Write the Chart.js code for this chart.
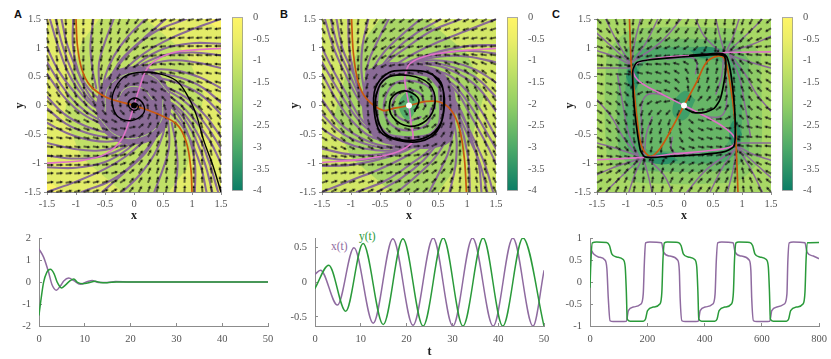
<!DOCTYPE html>
<html>
<head>
<meta charset="utf-8">
<style>
  html, body { margin: 0; background: #fff; }
  body { position: relative; width: 831px; height: 359px; overflow: hidden; }
  canvas { position: absolute; }
  .note { position: absolute; white-space: nowrap; line-height: 1; }
  .panel { font: bold 11px "Liberation Sans", sans-serif; color: #111; }
  .series { font: 11.5px "Liberation Serif", serif; }
</style>
<script src="https://cdn.jsdelivr.net/npm/chart.js@4"></script>
</head>
<body>
<span class="note panel" style="left:14px;top:8px">A</span>
<span class="note panel" style="left:280px;top:8px">B</span>
<span class="note panel" style="left:552px;top:8px">C</span>
<span class="note series" style="left:331px;top:240px;color:#8f6ba0">x(t)</span>
<span class="note series" style="left:359px;top:230px;color:#2a9a3a">y(t)</span>
<script>
// all values below are estimates
const phaseTicks = [-1.5, -1, -0.5, 0, 0.5, 1, 1.5];
const barTicks = [-4, -3.5, -3, -2.5, -2, -1.5, -1, -0.5, 0];
const cmapValues = [0, -0.5, -1, -2, -3, -4];
const cmapColors = ['#fff566', '#ecee69', '#cfe667', '#93cf66', '#4eaa69', '#0b7d66'];
const gridPos = [-1.5, -1.34, -1.18, -1.03, -0.87, -0.71, -0.55, -0.39, -0.24, -0.08, 0.08, 0.24, 0.39, 0.55, 0.71, 0.87, 1.03, 1.18, 1.34, 1.5];

// arrow directions in degrees clockwise from east, rows run from y=1.5 down to y=-1.5
const anglesA = [
  [79,82,86,89,93,97,101,105,110,118,130,142,152,158,162,164,166,167,168,169],
  [78,82,86,89,93,97,101,106,112,121,133,147,157,164,167,169,170,171,172,172],
  [77,81,85,89,93,98,102,108,114,124,138,153,163,169,172,174,175,175,176,176],
  [76,80,85,89,93,98,103,109,116,127,142,158,169,174,177,178,179,179,180,180],
  [74,79,84,88,93,98,104,110,118,130,148,165,175,180,182,183,183,183,183,183],
  [72,77,82,87,92,98,104,111,119,133,153,172,182,187,188,188,188,188,187,187],
  [68,73,79,84,90,97,103,111,120,137,160,180,189,193,194,194,193,192,191,191],
  [62,67,73,79,85,92,99,108,119,139,167,189,198,201,201,200,199,198,196,195],
  [52,57,63,68,75,82,90,99,111,136,176,201,209,210,209,208,205,204,202,200],
  [40,43,48,52,58,63,70,77,86,113,203,226,229,227,223,220,217,214,211,208],
  [28,31,34,37,40,43,47,49,46,23,293,266,257,250,243,238,232,228,223,220],
  [20,22,24,25,28,29,30,29,21,356,316,291,279,270,262,255,248,243,237,232],
  [15,16,18,19,20,21,21,18,9,347,319,299,288,279,272,265,259,253,247,242],
  [11,11,12,13,14,14,13,9,0,340,317,300,291,283,277,270,264,259,253,248],
  [7,7,8,8,8,8,7,2,352,333,313,299,291,284,278,272,267,262,257,252],
  [3,3,3,3,3,2,0,355,345,328,310,298,290,284,278,273,268,264,259,254],
  [0,0,359,359,358,357,354,349,338,322,307,296,289,283,278,273,269,265,260,256],
  [356,356,355,355,354,352,349,343,333,318,304,294,288,282,278,273,269,265,261,257],
  [352,352,351,350,349,347,344,337,327,313,301,292,286,281,277,273,269,266,262,258],
  [349,348,347,346,344,342,338,332,322,310,298,290,285,281,277,273,269,266,262,259]
];
const anglesB = [
  [63,69,77,87,99,112,123,133,140,145,149,152,153,154,154,154,154,153,152,153],
  [63,69,76,87,99,113,127,138,146,151,155,158,159,160,161,161,161,160,160,161],
  [64,69,76,86,99,115,131,143,151,158,162,164,166,167,168,168,168,168,168,169],
  [64,69,75,86,99,117,135,148,157,164,168,170,172,173,174,174,175,175,176,177],
  [64,69,75,85,97,115,134,150,161,169,175,180,183,186,188,190,191,191,190,189],
  [64,69,75,85,96,113,133,152,165,175,183,189,194,199,203,206,207,207,204,202],
  [64,68,75,84,93,108,126,145,162,177,191,202,211,218,222,224,223,220,216,212],
  [63,68,75,82,91,104,120,139,159,180,199,216,229,238,242,242,239,234,228,223],
  [61,66,73,80,88,98,110,124,140,165,219,241,250,254,254,251,247,241,235,229],
  [59,65,71,78,85,93,101,109,120,149,239,266,270,269,265,260,254,247,241,235],
  [55,61,67,74,80,85,89,90,86,59,329,300,289,281,273,265,258,251,245,239],
  [49,55,61,67,71,74,74,70,61,39,345,320,304,290,278,268,260,253,246,241],
  [43,48,54,59,62,62,58,49,36,19,0,339,319,300,284,271,262,255,248,243],
  [32,36,40,43,44,42,38,31,22,11,357,342,325,306,288,273,264,255,248,244],
  [22,24,27,27,26,23,19,14,9,3,355,345,332,313,293,276,265,255,249,244],
  [9,10,11,11,10,8,6,3,0,355,349,341,330,314,295,277,265,255,249,244],
  [357,356,355,355,354,354,353,352,350,348,344,337,328,315,297,279,266,255,249,244],
  [349,348,348,348,348,348,347,346,344,342,338,331,323,311,295,279,266,256,249,244],
  [341,340,340,341,341,341,340,339,338,335,331,326,318,307,293,279,267,256,249,243],
  [333,332,333,334,334,334,334,333,332,329,325,320,313,303,292,279,267,257,249,243]
];
const anglesC = [
  [47,58,70,84,98,111,120,125,127,125,120,112,104,98,97,102,110,119,128,137],
  [38,49,63,80,100,116,127,133,135,132,125,116,106,98,98,105,117,129,139,148],
  [29,39,53,74,103,124,137,142,144,141,134,122,108,98,100,112,129,143,153,160],
  [20,27,39,64,107,137,150,155,156,155,148,135,115,96,105,132,154,164,170,173],
  [12,15,22,42,120,158,168,172,174,175,177,181,204,297,252,210,197,193,190,188],
  [7,8,10,15,162,182,185,188,191,197,211,241,273,284,272,248,227,214,206,201],
  [8,8,8,6,207,194,195,198,203,214,236,264,281,285,275,258,240,227,217,210],
  [14,15,18,25,115,183,191,197,205,222,250,276,287,288,278,262,245,232,223,216],
  [22,26,32,45,91,151,174,185,198,221,261,288,295,293,281,264,246,234,225,217],
  [30,36,44,58,87,121,146,160,171,199,289,311,312,304,287,265,245,231,222,215],
  [35,42,51,65,85,107,124,132,131,109,19,351,340,326,301,267,238,224,216,210],
  [37,45,54,66,84,101,113,115,108,81,41,18,5,354,331,271,225,212,206,202],
  [36,43,52,65,82,98,108,107,96,70,42,25,17,11,3,295,205,198,195,194],
  [30,37,47,60,78,95,105,101,84,56,34,23,18,15,14,27,186,188,188,188],
  [21,26,34,47,68,92,104,93,61,31,17,11,8,5,2,342,195,190,188,187],
  [8,10,13,17,30,72,117,24,1,357,355,354,352,348,338,300,222,202,195,192],
  [353,350,344,334,312,285,276,295,315,328,335,336,335,330,317,287,244,219,207,200],
  [340,333,323,309,292,280,278,288,302,314,321,324,322,317,304,283,254,233,219,209],
  [328,319,309,297,285,278,278,286,296,305,312,315,313,307,296,280,260,243,229,218],
  [317,308,299,290,282,277,278,284,292,300,305,307,305,300,291,278,264,250,238,227]
];

// curves are flat x,y lists
const streamsA = [
  [-1.45,1.5,-1.3,1,-1.1,.5,-.8,.08,-.45,-.14,-.15,-.22],
  [-1.25,1.5,-1.15,1.05,-.95,.55,-.7,.2,-.4,0,-.15,-.1],
  [-1.35,1.5,-1.22,1,-1,.45,-.72,.05,-.5,-.08],
  [-1.5,1,-1.3,.6,-1,.2,-.7,-.1,-.4,-.25,-.1,-.28],
  [-1.5,.75,-1.27,.38,-.98,.02,-.65,-.22,-.35,-.32],
  [-1.5,.55,-1.25,.2,-.95,-.1,-.6,-.3,-.3,-.38,0,-.33],
  [-1.5,.15,-1.2,-.15,-.85,-.35,-.45,-.47,-.1,-.45,.15,-.3],
  [-1.5,-.05,-1.17,-.32,-.8,-.48,-.4,-.55,-.05,-.48],
  [-1.5,-.3,-1.15,-.48,-.75,-.6,-.35,-.62,0,-.5,.25,-.3],
  [-1.5,-.65,-1.05,-.75,-.6,-.78,-.2,-.68,.1,-.5,.33,-.2],
  [-1.5,-.87,-1.02,-.92,-.55,-.88,-.15,-.72,.15,-.48],
  [-1.5,-1.07,-1,-1.08,-.5,-.98,-.1,-.75,.2,-.45,.4,-.1],
  [-1.5,-1.5,-1,-1.32,-.5,-1.1,-.1,-.85,.25,-.52,.45,-.15],
  [-.9,-1.5,-.4,-1.3,0,-1,.3,-.65,.5,-.3],
  [-.55,-1.5,-.15,-1.15,.2,-.82,.42,-.48],
  [-.2,-1.5,.1,-1.2,.35,-.85,.5,-.5,.55,-.15],
  [.35,-1.5,.5,-1.1,.6,-.75,.6,-.4,.55,-.05],
  [.7,-1.5,.75,-1.05,.72,-.65,.65,-.3],
  [1.05,-1.5,1.05,-1,.95,-.55,.75,-.15,.5,.1],
  [1.45,-1.5,1.3,-1,1.1,-.5,.8,-.08,.45,.14,.15,.22],
  [1.25,-1.5,1.15,-1.05,.95,-.55,.7,-.2,.4,0,.15,.1],
  [1.35,-1.5,1.22,-1,1,-.45,.72,-.05,.5,.08],
  [1.5,-1,1.3,-.6,1,-.2,.7,.1,.4,.25,.1,.28],
  [1.5,-.75,1.27,-.38,.98,-.02,.65,.22,.35,.32],
  [1.5,-.55,1.25,-.2,.95,.1,.6,.3,.3,.38,0,.33],
  [1.5,-.15,1.2,.15,.85,.35,.45,.47,.1,.45,-.15,.3],
  [1.5,.05,1.17,.32,.8,.48,.4,.55,.05,.48],
  [1.5,.3,1.15,.48,.75,.6,.35,.62,0,.5,-.25,.3],
  [1.5,.65,1.05,.75,.6,.78,.2,.68,-.1,.5,-.33,.2],
  [1.5,.87,1.02,.92,.55,.88,.15,.72,-.15,.48],
  [1.5,1.07,1,1.08,.5,.98,.1,.75,-.2,.45,-.4,.1],
  [1.5,1.5,1,1.32,.5,1.1,.1,.85,-.25,.52,-.45,.15],
  [.9,1.5,.4,1.3,0,1,-.3,.65,-.5,.3],
  [.55,1.5,.15,1.15,-.2,.82,-.42,.48],
  [.2,1.5,-.1,1.2,-.35,.85,-.5,.5,-.55,.15],
  [-.35,1.5,-.5,1.1,-.6,.75,-.6,.4,-.55,.05],
  [-.7,1.5,-.75,1.05,-.72,.65,-.65,.3],
  [-1.05,1.5,-1.05,1,-.95,.55,-.75,.15,-.5,-.1]
];
const streamsB = [
  [-1.45,1.5,-1.3,1,-1.1,.55,-.9,.15,-.7,-.15,-.55,-.35],
  [-1.25,1.5,-1.15,1,-.98,.6,-.82,.2,-.7,-.1],
  [-1.35,1.5,-1.22,1,-1.03,.55,-.85,.15,-.72,-.15],
  [-1.5,1,-1.3,.6,-1.05,.15,-.85,-.2,-.62,-.45],
  [-1.5,.75,-1.27,.35,-1.02,-.05,-.78,-.35,-.5,-.55],
  [-1.5,.55,-1.25,.1,-1,-.25,-.7,-.52,-.4,-.62],
  [-1.5,.1,-1.2,-.3,-.85,-.55,-.45,-.7,-.1,-.7],
  [-1.5,-.15,-1.17,-.47,-.8,-.65,-.38,-.74,0,-.7],
  [-1.5,-.4,-1.15,-.62,-.75,-.75,-.3,-.78,.1,-.68],
  [-1.5,-.75,-1,-.85,-.55,-.85,-.1,-.75,.25,-.6],
  [-1.5,-.9,-1,-.95,-.55,-.9,-.1,-.77,.3,-.58],
  [-1.5,-1.05,-1,-1.03,-.5,-.93,-.05,-.78,.35,-.55],
  [-1.5,-1.5,-1,-1.3,-.5,-1.1,-.05,-.88,.35,-.62,.55,-.4],
  [-.9,-1.5,-.4,-1.3,.05,-1,.4,-.72,.62,-.35],
  [-.55,-1.5,-.12,-1.25,.25,-.95,.52,-.62],
  [-.2,-1.5,.15,-1.2,.45,-.9,.65,-.55,.68,-.2],
  [.35,-1.5,.55,-1.1,.7,-.75,.75,-.35,.7,0],
  [.7,-1.5,.8,-1.05,.82,-.6,.76,-.2],
  [1.05,-1.5,1.03,-1,.95,-.55,.82,-.1,.7,.15],
  [1.25,-1.5,1.2,-1,1.05,-.5,.9,-.1,.72,.2],
  [1.35,-1.5,1.22,-1,1.03,-.55,.85,-.15,.72,.15],
  [1.45,-1.5,1.3,-1,1.1,-.55,.9,-.15,.7,.15,.55,.35],
  [1.5,-1,1.3,-.6,1.05,-.15,.85,.2,.62,.45],
  [1.5,-.75,1.27,-.35,1.02,.05,.78,.35,.5,.55],
  [1.5,-.55,1.25,-.1,1,.25,.7,.52,.4,.62],
  [1.5,-.1,1.2,.3,.85,.55,.45,.7,.1,.7],
  [1.5,.15,1.17,.47,.8,.65,.38,.74,0,.7],
  [1.5,.4,1.15,.62,.75,.75,.3,.78,-.1,.68],
  [1.5,.75,1,.85,.55,.85,.1,.75,-.25,.6],
  [1.5,.9,1,.95,.55,.9,.1,.77,-.3,.58],
  [1.5,1.05,1,1.03,.5,.93,.05,.78,-.35,.55],
  [1.5,1.5,1,1.3,.5,1.1,.05,.88,-.35,.62,-.55,.4],
  [.9,1.5,.4,1.3,-.05,1,-.4,.72,-.62,.35],
  [.55,1.5,.12,1.25,-.25,.95,-.52,.62],
  [.2,1.5,-.15,1.2,-.45,.9,-.65,.55,-.68,.2],
  [-.35,1.5,-.55,1.1,-.7,.75,-.75,.35,-.7,0],
  [-.7,1.5,-.8,1.05,-.82,.6,-.76,.2],
  [-1.05,1.5,-1.03,1,-.95,.55,-.82,.1,-.7,-.15],
  [.45,-.05,.38,.28,.1,.42,-.25,.38,-.42,.1,-.4,-.2,-.2,-.4,.1,-.42,.33,-.3,.38,-.05],
  [.28,0,.2,.2,-.05,.27,-.25,.12,-.25,-.12,-.03,-.27,.2,-.2]
];
const streamsC = [
  [-1.35,1.5,-1.15,1.1,-.92,.72],
  [-1.5,1.25,-1.2,.98,-.92,.72],
  [-.75,1.5,-.85,1.1,-.9,.75],
  [-.45,1.5,-.65,1.1,-.88,.75],
  [-1.5,.65,-1.2,.65,-.92,.65],
  [-1.5,.95,-1.2,.85,-.95,.72],
  [-.05,1.5,-.4,1.1,-.85,.78],
  [.55,1.5,.62,1.2,.7,.92],
  [.2,1.5,.35,1.2,.6,.95],
  [.95,1.5,.85,1.2,.72,.92],
  [1.35,1.5,1.05,1.2,.75,.93],
  [1.5,1.2,1.15,1.05,.75,.92],
  [1.5,.65,1.15,.75,.8,.87],
  [1.5,-.1,1.25,.2,1.05,.55,.8,.88],
  [1.15,-.55,1.05,0,.95,.5,.78,.88],
  [1.35,-1.5,1.15,-1.1,.92,-.72],
  [1.5,-1.25,1.2,-.98,.92,-.72],
  [.75,-1.5,.85,-1.1,.9,-.75],
  [.45,-1.5,.65,-1.1,.88,-.75],
  [1.5,-.65,1.2,-.65,.92,-.65],
  [1.5,-.95,1.2,-.85,.95,-.72],
  [.05,-1.5,.4,-1.1,.85,-.78],
  [-.55,-1.5,-.62,-1.2,-.7,-.92],
  [-.2,-1.5,-.35,-1.2,-.6,-.95],
  [-.95,-1.5,-.85,-1.2,-.72,-.92],
  [-1.35,-1.5,-1.05,-1.2,-.75,-.93],
  [-1.5,-1.2,-1.15,-1.05,-.75,-.92],
  [-1.5,-.65,-1.15,-.75,-.8,-.87],
  [-1.5,.1,-1.25,-.2,-1.05,-.55,-.8,-.88],
  [-1.15,.55,-1.05,0,-.95,-.5,-.78,-.88],
  [-.3,.17,-.6,.2,-.72,.05,-.73,-.4,-.7,-.85],
  [-.55,-.2,-.65,-.5,-.68,-.85],
  [-.2,-.55,-.22,-.75,-.1,-.84,.3,-.8],
  [.3,-.17,.6,-.2,.72,-.05,.73,.4,.7,.85],
  [.55,.2,.65,.5,.68,.85],
  [.2,.55,.22,.75,.1,.84,-.3,.8]
];
const coreLinesA = [
  [.6,.22,.3,.52,-.1,.55,-.45,.3,-.5,-.1],
  [-.6,-.22,-.3,-.52,.1,-.55,.45,-.3,.5,.1],
  [.32,.1,.14,.3,-.14,.3,-.3,.08]
];

const orangeA = [-1,1.5,-.975,1.03,-.9,.63,-.755,.345,-.47,.14,0,0,.39,-.14,.73,-.32,.9,-.63,.98,-1.09,1,-1.5];
const pinkA = [-1.5,-1,-.87,-.95,-.47,-.83,-.21,-.58,-.07,-.23,0,0,.09,.29,.22,.63,.45,.83,.79,.94,1.5,.99];
const blackA = [1.5,-1.5,1.36,-1.04,1.2,-.6,1.08,-.18,.95,.12,.73,.43,.39,.56,.1,.575,-.18,.49,-.355,.23,-.37,0,-.27,-.2,-.04,-.26,.16,-.14,.17,0,.07,.115,-.04,.115,-.1,.03,-.04,-.07,.05,-.07,.07,0,0,.04,0,0];
const orangeB = [-.99,1.5,-.96,.92,-.875,.4,-.73,.115,-.45,-.085,-.27,-.05,0,0,.3,.07,.53,.06,.73,-.085,.87,-.4,.955,-.92,.99,-1.5];
const pinkB = [-1.5,-.99,-.79,-.93,-.27,-.83,.04,-.66,.07,-.52,.04,-.34,0,0,-.06,.34,-.07,.49,.01,.72,.3,.86,.81,.94,1.5,.99];
const blackB = [.1,-.1,.17,.1,0,.24,-.2,.22,-.33,.06,-.28,-.2,0,-.36,.3,-.26,.45,.06,.35,.37,0,.52,-.4,.47,-.56,.2,-.56,-.15,-.42,-.48,-.1,-.6,.3,-.55,.55,-.3,.6,.05,.55,.4,.3,.58,0,.61,-.35,.57,-.58,.3,-.6,-.1,-.5,-.45,-.2,-.6,.2,-.62,.48,-.45,.6,-.1,.58,.3,.4,.55];
const orangeC = [-.94,1.5,-.91,.72,-.87,.35,-.81,-.22,-.73,-.71,-.58,-.88,-.41,-.74,-.18,-.34,0,0,.22,.41,.39,.75,.59,.86,.7,.81,.79,.41,.875,-.22,.9,-.71,.93,-1.5];
const pinkC = [-1.5,-.94,-.7,-.9,-.18,-.84,.45,-.78,.82,-.71,.88,-.57,.68,-.37,.22,-.11,0,0,-.35,.18,-.76,.41,-.88,.61,-.78,.75,-.3,.84,.27,.875,.73,.92,1.5,.93];
const blackC = [.03,-.06,.15,-.12,.35,-.12,.52,-.05,.62,.1,.68,.35,.72,.65,.7,.85,.6,.88,.2,.86,-.3,.82,-.68,.78,-.82,.74,-.88,.62,-.88,.3,-.85,-.1,-.8,-.5,-.75,-.78,-.68,-.89,-.55,-.9,-.2,-.88,.3,-.85,.7,-.8,.85,-.72,.88,-.6,.88,-.2,.85,.2,.8,.6,.74,.84,.66,.9,.5,.9,.1,.87];

// filled colour regions behind the field
const regionsA = [
  {color: '#fbf366', pts: [-1.5,-1.5,1.5,-1.5,1.5,1.5,-1.5,1.5,-1.5,-1.5]},
  {color: '#e3ec69', pts: [-1.38,1.5,1.2,1.5,1.5,1.3,1.5,-1.38,1.4,-1.5,-1.2,-1.5,-1.5,-1.3,-1.5,1.38,-1.38,1.5]},
  {color: '#c0e067', pts: [-.6,1.5,.2,1.5,.9,.9,1.2,.2,1.1,-.5,.9,-1.1,.6,-1.5,-.2,-1.5,-.9,-.9,-1.2,-.2,-1.1,.5,-.9,1.1,-.6,1.5]},
  {color: '#8a6b96', smooth: 0.4, pts: [.62,.25,.42,.55,.05,.68,-.38,.56,-.62,.18,-.62,-.25,-.42,-.55,-.05,-.68,.38,-.56,.62,-.18,.62,.25]}
];
const regionsB = [
  {color: '#d3e767', pts: [-1.5,-1.5,1.5,-1.5,1.5,1.5,-1.5,1.5,-1.5,-1.5]},
  {color: '#a9d666', pts: [-.5,1.5,.3,1.5,1,.9,1.3,.2,1.1,-.5,.8,-1.1,.5,-1.5,-.3,-1.5,-1,-.9,-1.3,-.2,-1.1,.5,-.8,1.1,-.5,1.5]},
  {color: '#8a6b96', smooth: 0.3, pts: [-.72,.62,-.35,.75,.1,.72,.55,.6,.78,.25,.8,-.2,.72,-.62,.35,-.75,-.1,-.72,-.55,-.6,-.78,-.25,-.8,.2,-.72,.62]},
  {color: '#8ecb66', smooth: 0.3, pts: [.5,.3,.3,.5,-.3,.5,-.5,.3,-.5,-.3,-.3,-.5,.3,-.5,.5,-.3,.5,.3]},
  {color: '#55ad6a', smooth: 0.4, pts: [.18,.02,.02,.25,-.18,.02,-.02,-.25,.18,.02]}
];
const regionsC = [
  {color: '#a8d865', pts: [-1.5,-1.5,1.5,-1.5,1.5,1.5,-1.5,1.5,-1.5,-1.5]},
  {color: '#8dcb66', smooth: 0.2, pts: [1.32,.9,.9,1.32,-.9,1.32,-1.32,.9,-1.32,-.9,-.9,-1.32,.9,-1.32,1.32,-.9,1.32,.9]},
  {color: '#6cb967', smooth: 0.2, pts: [1.12,.8,.8,1.12,-.8,1.12,-1.12,.8,-1.12,-.8,-.8,-1.12,.8,-1.12,1.12,-.8,1.12,.8]},
  {color: '#4fa969', smooth: 0.2, pts: [.98,.7,.7,.98,-.7,.98,-.98,.7,-.98,-.7,-.7,-.98,.7,-.98,.98,-.7,.98,.7]},
  {color: '#67b667', smooth: 0.2, pts: [.78,.6,.6,.78,-.6,.78,-.78,.6,-.78,-.6,-.6,-.78,.6,-.78,.78,-.6,.78,.6]},
  {color: '#2a9168', smooth: 0.5, pts: [-1,.5,-.9,.75,-.78,.5,-.88,.25,-1,.5]},
  {color: '#2a9168', smooth: 0.5, pts: [1,-.5,.9,-.75,.78,-.5,.88,-.25,1,-.5]},
  {color: '#2a9168', smooth: 0.5, pts: [.1,.95,.35,1.02,.6,.95,.35,.82,.1,.95]},
  {color: '#2a9168', smooth: 0.5, pts: [-.1,-.95,-.35,-1.02,-.6,-.95,-.35,-.82,-.1,-.95]},
  {color: '#3f9f69', smooth: 0.5, pts: [.2,.1,0,.25,-.2,-.1,0,-.25,.2,.1]}
];

const timeTicksAB = [0, 10, 20, 30, 40, 50];
const timeTicksC = [0, 200, 400, 600, 800];
const valueTicksA = [-2, -1, 0, 1, 2];
const valueTicksB = [-0.5, 0, 0.5];
const valueTicksC = [-1, -0.5, 0, 0.5, 1];

const tA1 = [0,1,2.1,2.8,3.8,4.7,5.4,6.5,7.6,9,10.6,11.6,13,15,16.7,20,50];
const xA = [1.5,1.13,.44,-.1,-.37,-.17,.05,.18,.06,-.1,.02,.07,-.02,-.02,.02,0,0];
const tA2 = [0,.4,1,1.7,2.5,3.3,4,4.9,5.75,6.8,7.6,8.4,9.6,10.6,12.3,13.4,14.8,17,50];
const yA = [-1.5,-.85,-.02,.44,.58,.37,-.02,-.27,-.14,.06,.14,-.02,-.08,-.05,.03,-.02,-.03,0,0];
const tB1 = [0,1.2,4.9,8.5,12.7,17,21.4,25.8,30.1,34.4,38.9,43.2,47.6,50];
const xB = [.11,.17,-.33,.49,-.59,.62,-.62,.63,-.63,.63,-.63,.63,-.63,.16];
const tB2 = [0,3,6.7,10.5,14.9,19.2,23.6,28,32.3,36.7,41,45.4,50];
const yB = [-.09,.24,-.42,.55,-.61,.62,-.63,.63,-.63,.63,-.63,.63,-.63];
const tC1 = [0,3.5,12,29,52,59,64,70,81,127,134,151,178,186,190,194,209,250,257,279,306,312,315,321,333,378,385,402,429,437,441,446,460,500,507,529,556,562,565,571,583,628,635,653,679,688,691,696,710,751,758,780,800];
const xC = [.15,.72,.64,.57,.5,.3,-.38,-.88,-.9,-.89,-.65,-.57,-.5,-.27,.45,.89,.91,.89,.68,.59,.5,.26,-.38,-.88,-.9,-.89,-.65,-.57,-.5,-.27,.45,.89,.91,.89,.68,.59,.5,.26,-.38,-.88,-.9,-.89,-.65,-.57,-.5,-.27,.45,.89,.91,.89,.68,.59,.53];
const tC2 = [0,3.5,8,23,58,68,76,93,116,123,127,130,140,186,194,201,221,244,251,255,260,270,308,318,326,343,366,373,377,380,390,436,444,451,471,494,501,505,510,520,558,568,576,593,616,623,627,630,640,686,694,701,721,744,751,755,760,800];
const yC = [-.12,.53,.89,.91,.9,.83,.64,.57,.51,.34,-.23,-.84,-.89,-.89,-.84,-.65,-.57,-.5,-.23,.53,.89,.91,.9,.83,.64,.57,.51,.34,-.23,-.84,-.89,-.89,-.84,-.65,-.57,-.5,-.23,.53,.89,.91,.9,.83,.64,.57,.51,.34,-.23,-.84,-.89,-.89,-.84,-.65,-.57,-.5,-.23,.53,.89,.9];

const PURPLE = '#8a6b96', ORANGE = '#c9590f', PINK = '#e072c8', LINE_P = '#8f6ba0', LINE_G = '#2a9a3a';
const AXIS = '#8c8c8c', TEXT = '#555555';
const tickFont = {family: '"Liberation Serif", serif', size: 10.5};
const titleFont = {family: '"Liberation Serif", serif', size: 12, weight: 'bold'};

const pairs = a => { const p = []; for (let i = 0; i < a.length; i += 2) p.push({x: a[i], y: a[i + 1]}); return p; };
const zip = (xs, ys) => xs.map((x, i) => ({x: x, y: ys[i]}));
const fmt = v => String(v);

// small quiver head, tail sits at the sprite centre
const arrowSprite = document.createElement('canvas');
arrowSprite.width = 18; arrowSprite.height = 18;
(function () {
  const c = arrowSprite.getContext('2d');
  c.strokeStyle = '#111'; c.fillStyle = '#111'; c.lineWidth = 1.2;
  c.beginPath(); c.moveTo(9, 9); c.lineTo(14, 9); c.stroke();
  c.beginPath(); c.moveTo(16, 9); c.lineTo(13, 7.4); c.lineTo(13, 10.6); c.closePath(); c.fill();
})();

function addCanvas(left, top, width, height) {
  const el = document.createElement('canvas');
  el.width = width; el.height = height;
  el.style.left = left + 'px'; el.style.top = top + 'px';
  el.style.width = width + 'px'; el.style.height = height + 'px';
  document.body.appendChild(el);
  return el.getContext('2d');
}

function axis(pos, min, max, ticks, size, extra) {
  return Object.assign({
    type: 'linear', position: pos, min: min, max: max,
    afterBuildTicks: s => { s.ticks = ticks.map(v => ({value: v})); },
    afterFit: s => { if (pos === 'left') s.width = size; else s.height = size; },
    grid: {drawOnChartArea: false, color: AXIS, tickLength: 3},
    border: {color: AXIS, width: 1},
    ticks: {font: tickFont, color: TEXT, padding: 3, maxRotation: 0, autoSkip: false, callback: fmt}
  }, extra || {});
}

const line = (pts, color, width, tension) => ({
  data: pts, showLine: true, pointRadius: 0, borderColor: color, borderWidth: width,
  tension: tension, fill: false, borderCapStyle: 'round', borderJoinStyle: 'round'
});
const region = r => ({
  data: pairs(r.pts), showLine: true, pointRadius: 0, borderWidth: 0, tension: r.smooth || 0,
  borderColor: r.color, backgroundColor: r.color, fill: 'shape'
});

function phasePanel(left, top, size, opts) {
  const ds = [];
  opts.regions.forEach(r => ds.push(region(r)));
  opts.streams.forEach(s => ds.push(line(pairs(s), PURPLE, opts.streamWidth, 0.4)));
  (opts.thin || []).forEach(s => ds.push(line(pairs(s), '#a9cc78', 1, 0.4)));
  const arrows = [];
  const rot = [];
  opts.angles.forEach((row, r) => row.forEach((a, c) => {
    arrows.push({x: gridPos[c], y: gridPos[19 - r]});
    rot.push(a);
  }));
  ds.push({data: arrows, showLine: false, pointStyle: arrowSprite, pointRadius: 9, pointRotation: rot, clip: false});
  ds.push(line(pairs(opts.orange), ORANGE, 1.7, 0.35));
  ds.push(line(pairs(opts.pink), PINK, 1.6, 0.35));
  ds.push(line(pairs(opts.black), '#000', opts.blackWidth, opts.blackTension));
  ds.push({data: [{x: 0, y: 0}], showLine: false, pointRadius: 3, pointBackgroundColor: opts.dot, pointBorderWidth: 0});
  ds.reverse();
  const ctx = addCanvas(left - 34, top - 8, 34 + size + 9, 8 + size + 31);
  new Chart(ctx, {
    type: 'scatter',
    data: {datasets: ds},
    options: {
      responsive: false, animation: false, events: [],
      layout: {padding: {top: 8, right: 9}},
      plugins: {legend: {display: false}, tooltip: {enabled: false}},
      scales: {
        x: axis('bottom', -1.5, 1.5, phaseTicks, 31, {title: {display: true, text: 'x', font: titleFont, color: '#222', padding: 0}}),
        y: axis('left', -1.5, 1.5, phaseTicks, 34, {title: {display: true, text: 'y', font: titleFont, color: '#222', padding: 0}})
      }
    }
  });
}

function colorbar(left, top, width, height) {
  const ctx = addCanvas(left - 1, top - 8, width + 32, height + 16);
  new Chart(ctx, {
    type: 'bar',
    data: {labels: [''], datasets: [{
      data: [[-4, 0]], barPercentage: 1, categoryPercentage: 1, borderSkipped: false,
      borderWidth: 1, borderColor: AXIS,
      backgroundColor: c => {
        const a = c.chart.chartArea;
        if (!a) return cmapColors[0];
        const g = c.chart.ctx.createLinearGradient(0, a.top, 0, a.bottom);
        cmapValues.forEach((v, i) => g.addColorStop(-v / 4, cmapColors[i]));
        return g;
      }
    }]},
    options: {
      responsive: false, animation: false, events: [],
      layout: {padding: {top: 8, bottom: 8, left: 1}},
      plugins: {legend: {display: false}, tooltip: {enabled: false}},
      scales: {
        x: {display: false},
        y: {
          type: 'linear', position: 'right', min: -4, max: 0,
          afterBuildTicks: s => { s.ticks = barTicks.map(v => ({value: v})); },
          afterFit: s => { s.width = 31; },
          grid: {display: false}, border: {display: false},
          ticks: {font: tickFont, color: TEXT, padding: 2, autoSkip: false, callback: fmt}
        }
      }
    }
  });
}

function timePanel(left, top, width, height, opts) {
  const h = opts.title ? 33 : 22;
  // tick padding also counts toward the margin chart.js keeps around the plot
  const ctx = addCanvas(left - 30, top - 20, 30 + width + 20, 20 + height + h);
  const ds = [
    Object.assign(line(zip(opts.t1, opts.x), LINE_P, 1.5, 0), {cubicInterpolationMode: 'monotone'}),
    Object.assign(line(zip(opts.t2, opts.y), LINE_G, 1.5, 0), {cubicInterpolationMode: 'monotone'})
  ];
  ds.reverse();
  const grid = {drawOnChartArea: false, color: AXIS, tickLength: -3};
  const tickX = {font: tickFont, color: TEXT, padding: 10, maxRotation: 0, autoSkip: false, callback: fmt};
  const tickY = {font: tickFont, color: TEXT, padding: 11, autoSkip: false, callback: fmt};
  new Chart(ctx, {
    type: 'scatter',
    data: {datasets: ds},
    options: {
      responsive: false, animation: false, events: [],
      layout: {padding: {top: 20, right: 20}},
      plugins: {legend: {display: false}, tooltip: {enabled: false}},
      scales: {
        x: axis('bottom', 0, opts.tMax, opts.tTicks, h, Object.assign({grid: grid, ticks: tickX},
          opts.title ? {title: {display: true, text: 't', font: titleFont, color: '#222', padding: 0}} : {})),
        y: axis('left', opts.yMin, opts.yMax, opts.yTicks, 30, {grid: grid, ticks: tickY})
      }
    }
  });
}

phasePanel(47, 17, 175, {regions: regionsA, streams: streamsA, thin: coreLinesA, angles: anglesA, orange: orangeA, pink: pinkA, black: blackA, streamWidth: 2.1, blackWidth: 1.4, blackTension: 0.4, dot: '#000'});
phasePanel(322, 17, 175, {regions: regionsB, streams: streamsB, angles: anglesB, orange: orangeB, pink: pinkB, black: blackB, streamWidth: 2.1, blackWidth: 1.7, blackTension: 0.35, dot: '#fff'});
phasePanel(597, 17, 175, {regions: regionsC, streams: streamsC, angles: anglesC, orange: orangeC, pink: pinkC, black: blackC, streamWidth: 1.5, blackWidth: 1.7, blackTension: 0.2, dot: '#fff'});
colorbar(232, 17, 11, 174);
colorbar(507, 17, 11, 174);
colorbar(782, 17, 11, 174);
timePanel(39, 238, 229, 88, {t1: tA1, x: xA, t2: tA2, y: yA, tMax: 50, tTicks: timeTicksAB, yMin: -2, yMax: 2, yTicks: valueTicksA});
timePanel(315, 238, 229, 88, {t1: tB1, x: xB, t2: tB2, y: yB, tMax: 50, tTicks: timeTicksAB, yMin: -0.63, yMax: 0.63, yTicks: valueTicksB, title: true});
timePanel(590, 238, 229, 88, {t1: tC1, x: xC, t2: tC2, y: yC, tMax: 800, tTicks: timeTicksC, yMin: -1, yMax: 1, yTicks: valueTicksC});
</script>
</body>
</html>
